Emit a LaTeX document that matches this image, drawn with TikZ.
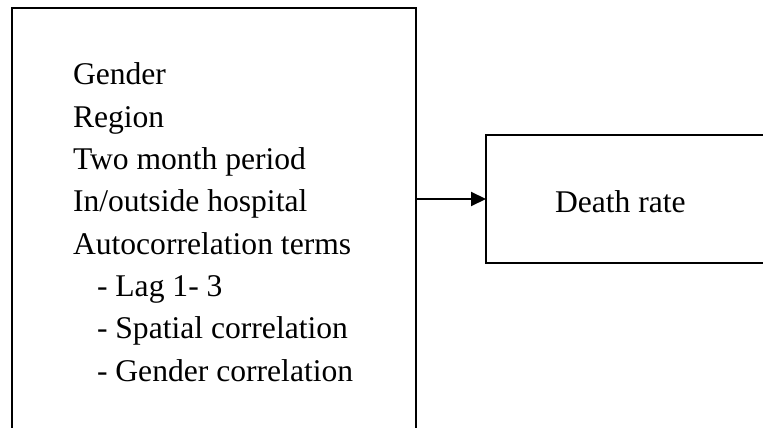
\documentclass[tikz,border=0pt]{standalone}
\usepackage{fontspec}
\setmainfont{Liberation Serif}
\usetikzlibrary{arrows.meta}
\begin{document}
\begin{tikzpicture}[x=0.5pt,y=-0.5pt,
  boxline/.style={draw=black,line width=1.4pt,rectangle,inner sep=0pt,outer sep=0pt},
  label/.style={inner sep=0pt,outer sep=0pt,anchor=base west,font=\fontsize{15.8}{19}\selectfont},
  conn/.style={draw=black,line width=1pt,-{Triangle[length=7.5pt,width=7pt]}}]
\useasboundingbox (0,0) rectangle (763,427);
\clip (0,0) rectangle (763,427);
\node[boxline,anchor=north west,minimum width=202pt,minimum height=240pt] (factors) at (12,8) {};
\node[boxline,anchor=north west,minimum width=160pt,minimum height=64pt] (out) at (486,135) {};
\node[label] (l1) at (73,85) {Gender};
\node[label] (l2) at (73,127.3) {Region};
\node[label] (l3) at (73,169.6) {Two month period};
\node[label] (l4) at (73,211.9) {In/outside hospital};
\node[label] (l5) at (73,254.2) {Autocorrelation terms};
\node[label] (l6) at (97,296.5) {- Lag 1- 3};
\node[label] (l7) at (97,338.8) {- Spatial correlation};
\node[label] (l8) at (97,381.1) {- Gender correlation};
\node[label] (dr) at (555,212) {Death rate};
\draw[conn] (out.west -| factors.east) -- (out.west);
\end{tikzpicture}
\end{document}
